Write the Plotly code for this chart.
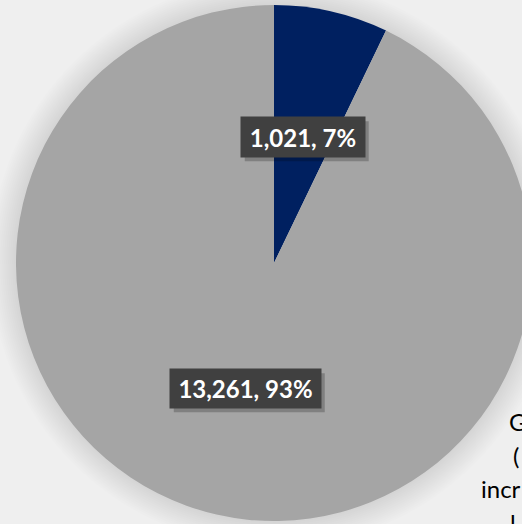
import math
import plotly.graph_objects as go

# ---- data ----
categories = ["Category A", "Category B"]
values = [1021, 13261]
colors = ["#002060", "#a5a5a5"]
side_text_lines = ["G", "(", "incr", "l"]

# ---- geometry (pixels) ----
W, H = 540, 524          # figure is a bit wider than the window -> pie clipped at right like the reference
CX, CY, R = 274, 263, 258

def px(x):
    return x / W

def py(y):
    return 1 - y / H

fig = go.Figure()
fig.add_trace(go.Pie(
    labels=categories,
    values=values,
    sort=False,
    direction="clockwise",
    rotation=0,
    marker=dict(colors=colors, line=dict(width=0)),
    textinfo="none",
    hoverinfo="label+value+percent",
    showlegend=False,
    domain=dict(x=[px(CX - R), px(CX + R)], y=[py(CY + R), py(CY - R)]),
))

shapes = []
# soft shadow around the pie
for k in range(2, 28, 2):
    r = R + k
    shapes.append(dict(type="circle", xref="paper", yref="paper", layer="below",
                       x0=px(CX - r), x1=px(CX + r), y0=py(CY + r), y1=py(CY - r),
                       fillcolor="rgba(0,0,0,0.009)", line=dict(width=0)))

annotations = []
total = sum(values)
start = 0.0
box_sizes = [(124, 40), (151, 39)]
for v, (bw, bh) in zip(values, box_sizes):
    frac = v / total
    mid = (start + frac / 2) * 2 * math.pi
    start += frac
    lx = CX + 0.5 * R * math.sin(mid)
    ly = CY - 0.5 * R * math.cos(mid)
    txt = f"{v:,}, {round(frac * 100)}%"
    # box shadow
    shapes.append(dict(type="rect", xref="paper", yref="paper", layer="above",
                       x0=px(lx - bw / 2 + 4), x1=px(lx + bw / 2 + 4),
                       y0=py(ly + bh / 2 + 4), y1=py(ly - bh / 2 + 4),
                       fillcolor="rgba(0,0,0,0.22)", line=dict(width=0)))
    annotations.append(dict(
        x=px(lx), y=py(ly), xref="paper", yref="paper", showarrow=False,
        text=f"<b>{txt}</b>", width=bw - 8, height=bh - 8, borderpad=4,
        bgcolor="#404040", xanchor="center", yanchor="middle",
        font=dict(family="Lato, Open Sans, sans-serif", size=24, color="#ffffff"),
    ))

# cut-off text block on the right edge
side_x = [507, 511, 479, 508]
side_y = [421, 455, 488, 522]
for t, x, y in zip(side_text_lines, side_x, side_y):
    annotations.append(dict(
        x=px(x), y=py(y), xref="paper", yref="paper", showarrow=False,
        text=t, xanchor="left", yanchor="middle",
        font=dict(family="Lato, Open Sans, sans-serif", size=24, color="#000000"),
    ))

fig.update_layout(
    width=W, height=H, autosize=False,
    margin=dict(l=0, r=0, t=0, b=0),
    paper_bgcolor="#efefef",
    plot_bgcolor="#efefef",
    shapes=shapes,
    annotations=annotations,
)

fig.write_html("out.html", post_script=(
    "document.documentElement.style.overflow='hidden';"
    "document.body.style.overflow='hidden';document.body.style.margin='0';"
))
